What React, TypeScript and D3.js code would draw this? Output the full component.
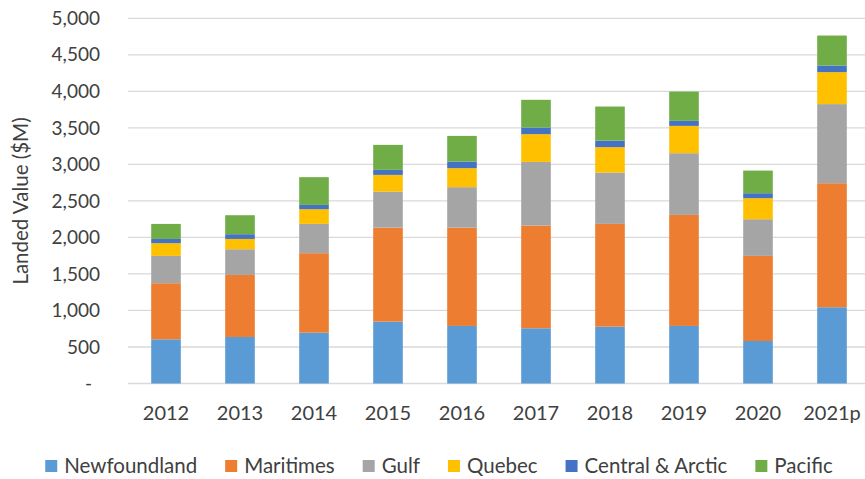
// LandedValueChart.tsx
import React, { useRef, useEffect } from 'react';
import * as d3 from 'd3';

const years = ['2012', '2013', '2014', '2015', '2016', '2017', '2018', '2019', '2020', '2021p'];
const newfoundland = [605, 637, 696, 847, 788, 756, 778, 788, 582, 1044];
const maritimes = [768, 849, 1088, 1287, 1346, 1406, 1407, 1520, 1165, 1698];
const gulf = [374, 352, 401, 493, 554, 872, 703, 845, 502, 1083];
const quebec = [174, 141, 201, 229, 260, 380, 348, 374, 288, 438];
const centralArctic = [58, 65, 59, 69, 90, 90, 90, 69, 68, 90];
const pacific = [206, 260, 380, 342, 352, 380, 466, 401, 310, 411];

const seriesNames = ['Newfoundland', 'Maritimes', 'Gulf', 'Quebec', 'Central & Arctic', 'Pacific'];
const seriesValues = [newfoundland, maritimes, gulf, quebec, centralArctic, pacific];
const colors = ['#5B9BD5', '#ED7D31', '#A5A5A5', '#FFC000', '#4472C4', '#70AD47'];
const yTicks = [0, 500, 1000, 1500, 2000, 2500, 3000, 3500, 4000, 4500, 5000];

const FONT = 'Lato, "Open Sans", sans-serif';
const TEXT = '#404040';

const App = () => {
  const svgRef = useRef<SVGSVGElement | null>(null);
  const width = 865;
  const height = 479;

  useEffect(() => {
    if (!svgRef.current) return;
    const svg = d3.select(svgRef.current);
    svg.selectAll('*').remove();

    // Table for the stack generator
    const rows = years.map((year, i) => {
      const row: Record<string, number | string> = { year };
      seriesNames.forEach((name, s) => { row[name] = seriesValues[s][i]; });
      return row;
    });

    const x = d3.scaleBand<string>()
      .domain(years)
      .range([129, 869])
      .paddingInner(0.6)
      .paddingOuter(0.3);

    const y = d3.scaleLinear()
      .domain([0, 5000])
      .range([383.5, 18.3]);

    // Gridlines
    svg.append('g')
      .selectAll('line')
      .data(yTicks)
      .enter()
      .append('line')
      .attr('x1', 128)
      .attr('x2', 869)
      .attr('y1', d => y(d))
      .attr('y2', d => y(d))
      .attr('stroke', '#D9D9D9')
      .attr('stroke-width', 1.3);

    // Y tick labels
    svg.append('g')
      .selectAll('text')
      .data(yTicks)
      .enter()
      .append('text')
      .attr('x', d => (d === 0 ? 92 : 100))
      .attr('y', d => y(d))
      .attr('dy', '0.35em')
      .attr('text-anchor', 'end')
      .attr('font-family', FONT)
      .attr('font-size', 19)
      .attr('fill', TEXT)
      .text(d => (d === 0 ? '-' : d3.format(',')(d)));

    // Y axis title
    svg.append('text')
      .attr('transform', `translate(28, 201) rotate(-90)`)
      .attr('text-anchor', 'middle')
      .attr('font-family', FONT)
      .attr('font-size', 20.5)
      .attr('fill', TEXT)
      .text('Landed Value ($M)');

    // Stacked bars
    const stack = d3.stack<Record<string, number | string>>()
      .keys(seriesNames)
      .value((d, key) => d[key] as number);

    svg.append('g')
      .selectAll('g')
      .data(stack(rows))
      .enter()
      .append('g')
      .attr('fill', (d, i) => colors[i])
      .selectAll('rect')
      .data(d => d)
      .enter()
      .append('rect')
      .attr('x', d => x(d.data.year as string) as number)
      .attr('width', x.bandwidth())
      .attr('y', d => y(d[1]))
      .attr('height', d => y(d[0]) - y(d[1]));

    // X labels
    svg.append('g')
      .selectAll('text')
      .data(years)
      .enter()
      .append('text')
      .attr('x', d => (x(d) as number) + x.bandwidth() / 2)
      .attr('y', 413)
      .attr('dy', '0.35em')
      .attr('text-anchor', 'middle')
      .attr('font-family', FONT)
      .attr('font-size', 20)
      .attr('fill', TEXT)
      .text(d => d);

    // Legend, laid out from measured text widths and centred
    const legend = svg.append('g');
    const items = legend.selectAll('g')
      .data(seriesNames)
      .enter()
      .append('g');

    items.append('rect')
      .attr('width', 12)
      .attr('height', 12)
      .attr('y', 460)
      .attr('fill', (d, i) => colors[i]);

    const labels = items.append('text')
      .attr('x', 19)
      .attr('y', 466)
      .attr('dy', '0.35em')
      .attr('font-family', FONT)
      .attr('font-size', 20.5)
      .attr('fill', TEXT)
      .text(d => d);

    const widths: number[] = [];
    labels.each(function () {
      widths.push((this as SVGTextElement).getComputedTextLength());
    });
    const gap = 28;
    const itemWidths = widths.map(w => 19 + w);
    const total = d3.sum(itemWidths) + gap * (itemWidths.length - 1);
    let cursor = 439 - total / 2;
    items.attr('transform', (d, i) => {
      const t = `translate(${cursor}, 0)`;
      cursor += itemWidths[i] + gap;
      return t;
    });
  }, []);

  return (
    <svg
      ref={svgRef}
      width={width}
      height={height}
      style={{ position: 'absolute', left: 0, top: 0, background: '#fff' }}
    />
  );
};

export default App;
